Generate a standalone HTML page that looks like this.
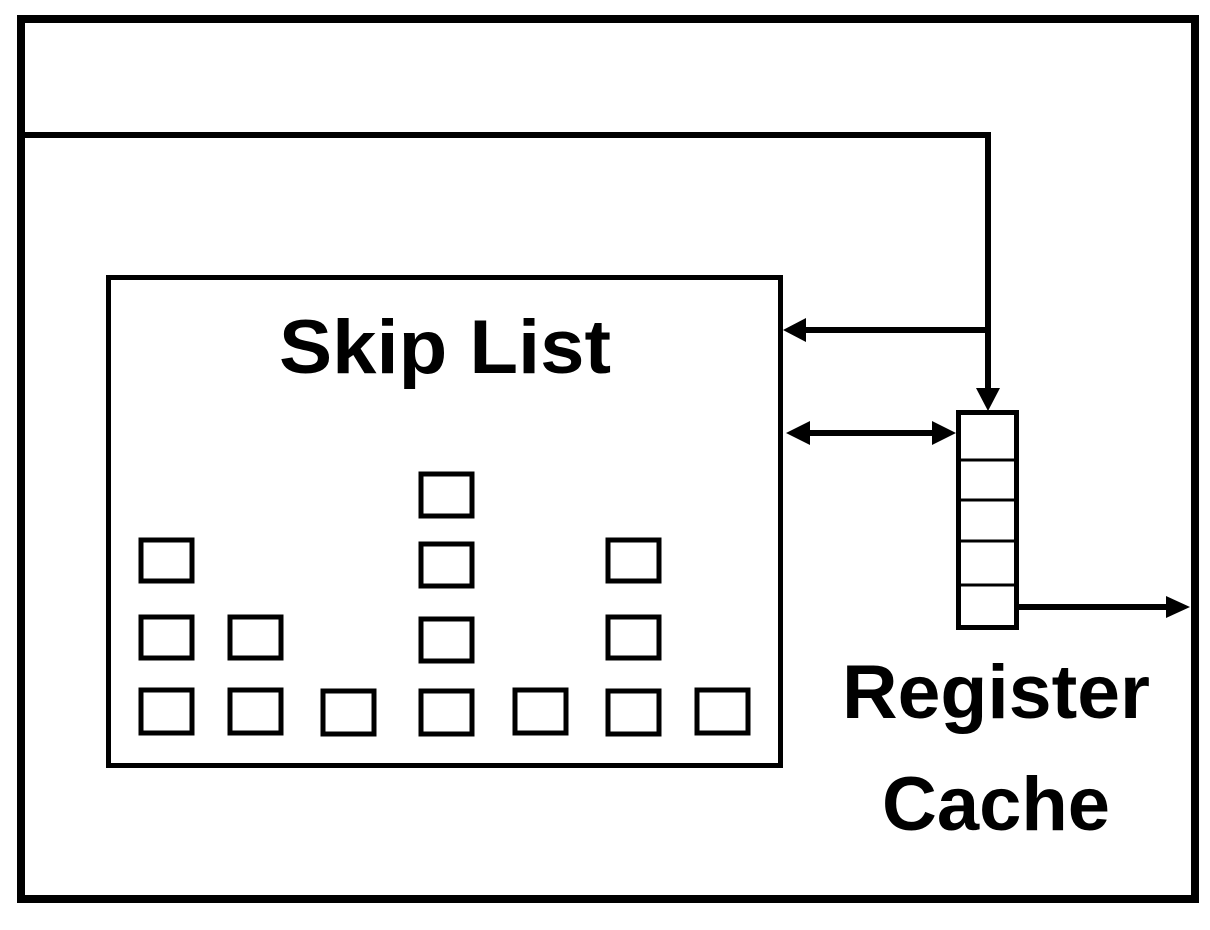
<!DOCTYPE html>
<html><head><style>html,body{margin:0;padding:0;background:#fff;}svg{display:block}</style></head>
<body>
<svg width="1210" height="930" viewBox="0 0 1210 930" xmlns="http://www.w3.org/2000/svg">
<rect x="0" y="0" width="1210" height="930" fill="#fff"/>
<rect x="21" y="19" width="1174" height="880" fill="none" stroke="#000" stroke-width="8"/>
<polyline points="22,135 988,135 988,392" fill="none" stroke="#000" stroke-width="6"/>
<polygon points="976,388 1000,388 988,411" fill="#000"/>
<line x1="988" y1="330" x2="800" y2="330" stroke="#000" stroke-width="6"/>
<polygon points="783,330 806,318 806,342" fill="#000"/>
<line x1="800" y1="433" x2="940" y2="433" stroke="#000" stroke-width="6"/>
<polygon points="786,433 810,421 810,445" fill="#000"/>
<polygon points="956,433 932,421 932,445" fill="#000"/>
<line x1="1019" y1="607" x2="1170" y2="607" stroke="#000" stroke-width="6"/>
<polygon points="1190,607 1166,596 1166,618" fill="#000"/>
<rect x="108.5" y="277.5" width="672" height="488" fill="none" stroke="#000" stroke-width="5"/>
<rect x="958.5" y="412.5" width="58" height="215" fill="none" stroke="#000" stroke-width="5"/>
<g stroke="#000" stroke-width="3">
<line x1="958" y1="460" x2="1017" y2="460"/>
<line x1="958" y1="500" x2="1017" y2="500"/>
<line x1="958" y1="541" x2="1017" y2="541"/>
<line x1="958" y1="585" x2="1017" y2="585"/>
</g>
<g fill="none" stroke="#000" stroke-width="5">
<rect x="141" y="540" width="51" height="41"/>
<rect x="141" y="617" width="51" height="41"/>
<rect x="141" y="690" width="51" height="43"/>
<rect x="230" y="617" width="51" height="41"/>
<rect x="230" y="690" width="51" height="43"/>
<rect x="323" y="691" width="51" height="43"/>
<rect x="421" y="474" width="51" height="42"/>
<rect x="421" y="544" width="51" height="42"/>
<rect x="421" y="619" width="51" height="42"/>
<rect x="421" y="691" width="51" height="43"/>
<rect x="515" y="690" width="51" height="43"/>
<rect x="608" y="540" width="51" height="41"/>
<rect x="608" y="617" width="51" height="41"/>
<rect x="608" y="691" width="51" height="43"/>
<rect x="697" y="690" width="51" height="43"/>
</g>
<g font-family="Liberation Sans, sans-serif" font-weight="bold" fill="#000" text-anchor="middle">
<text x="445" y="373" font-size="76" textLength="332" lengthAdjust="spacingAndGlyphs">Skip List</text>
<text x="996" y="718" font-size="76" textLength="308" lengthAdjust="spacingAndGlyphs">Register</text>
<text x="996" y="830" font-size="76" textLength="228" lengthAdjust="spacingAndGlyphs">Cache</text>
</g>
</svg>
</body></html>
